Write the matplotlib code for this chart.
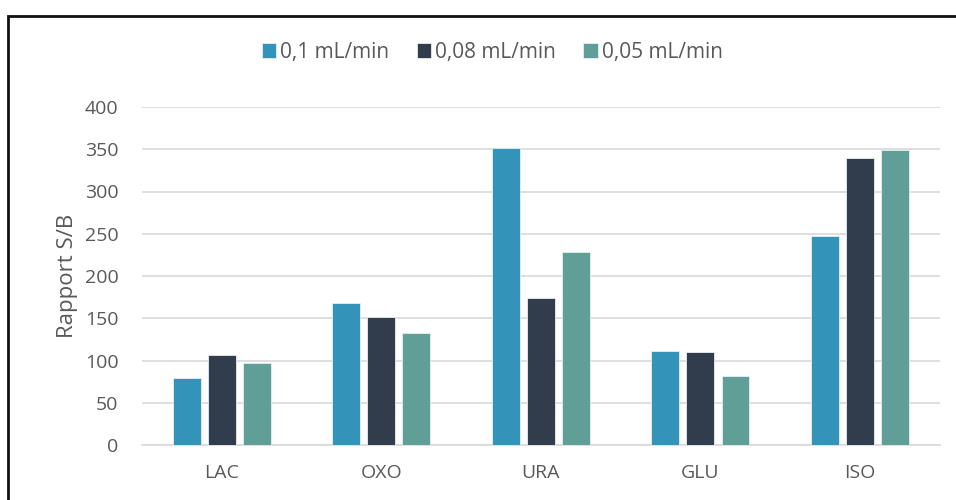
import numpy as np
import matplotlib.pyplot as plt
from matplotlib.patches import Rectangle

plt.rcParams['font.family'] = ['Open Sans', 'DejaVu Sans']

categories = ['LAC', 'OXO', 'URA', 'GLU', 'ISO']
series_names = ['0,1 mL/min', '0,08 mL/min', '0,05 mL/min']
flow_01 = [79, 168, 351, 111, 247]
flow_008 = [106, 151, 174, 110, 340]
flow_005 = [97, 132, 228, 82, 349]
colors = ['#3393B9', '#313D4C', '#5F9F97']

fig = plt.figure(figsize=(9.56, 5.0), dpi=100)
ax = fig.add_axes([0.1485, 0.11, 0.8345, 0.676])

x = np.arange(len(categories))
width = 0.175
step = 0.22
for i, (vals, name) in enumerate(zip([flow_01, flow_008, flow_005], series_names)):
    ax.bar(x + (i - 1) * step, vals, width, color=colors[i], label=name,
           edgecolor='#e8eef2', linewidth=0.6, zorder=3)

ax.set_xlim(-0.5, len(categories) - 0.5)
ax.set_ylim(0, 400)
ax.set_yticks(range(0, 401, 50))
ax.set_xticks(x)
ax.set_xticklabels(categories)
ax.tick_params(axis='both', length=0, colors='#595959', labelsize=14)
ax.tick_params(axis='y', pad=17)
ax.tick_params(axis='x', pad=14)
ax.grid(axis='y', color='#d9d9d9', linewidth=1.2, zorder=0)
for s in ['top', 'right', 'left']:
    ax.spines[s].set_visible(False)
ax.spines['bottom'].set_color('#d9d9d9')
ax.spines['bottom'].set_linewidth(1.2)

ax.set_ylabel('Rapport S/B', fontsize=16, color='#595959', labelpad=5)

fig.legend(loc='center', bbox_to_anchor=(0.515, 0.895), ncol=3, frameon=False,
           fontsize=15, handlelength=0.7, handleheight=0.7, handletextpad=0.2,
           columnspacing=1.3, labelcolor='#595959')

# outer frame of the chart
fig.patches.append(Rectangle((0.0085, -0.1), 1.2, 1.068, transform=fig.transFigure,
                             fill=False, edgecolor='#111111', linewidth=2))

fig.savefig('out.png', dpi=100)
